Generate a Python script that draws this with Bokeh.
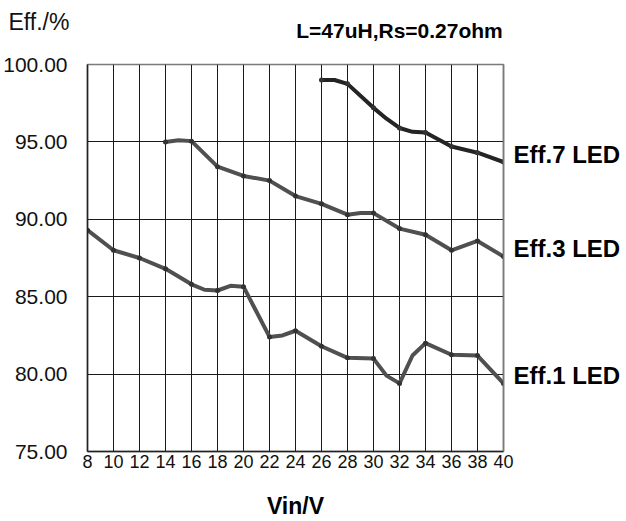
from bokeh.plotting import figure
from bokeh.models import Range1d, FixedTicker, LinearAxis
from bokeh.embed import file_html
from bokeh.resources import INLINE

# ---- data ----
vin_7 = [26, 27, 28, 30, 31, 32, 33, 34, 36, 38, 40]
eff_7 = [99.0, 99.0, 98.75, 97.2, 96.5, 95.9, 95.65, 95.6, 94.7, 94.3, 93.7]

vin_3 = [14, 15, 16, 18, 20, 22, 24, 26, 28, 29, 30, 32, 34, 36, 38, 40]
eff_3 = [95.0, 95.1, 95.05, 93.4, 92.8, 92.5, 91.5, 91.0, 90.3, 90.4, 90.4, 89.4, 89.0, 88.0, 88.6, 87.6]

vin_1 = [8, 10, 12, 14, 16, 17, 18, 19, 20, 22, 23, 24, 26, 28, 30, 31, 32, 33, 34, 36, 38, 40]
eff_1 = [89.3, 88.0, 87.5, 86.8, 85.8, 85.45, 85.4, 85.7, 85.65, 82.4, 82.5, 82.8, 81.8, 81.05, 81.0, 79.9,
         79.4, 81.2, 82.0, 81.25, 81.2, 79.4]

x_ticks = list(range(8, 41, 2))
y_ticks = [75, 80, 85, 90, 95, 100]
y_tick_labels = ["75.00", "80.00", "85.00", "90.00", "95.00", "100.00"]

series_names = ["Eff.7 LED", "Eff.3 LED", "Eff.1 LED"]
subtitle = "L=47uH,Rs=0.27ohm"
subtitle_at_vin = 32          # the subtitle is centred above this Vin gridline
y_title = "Eff./%"
x_title = "Vin/V"

FONT = "Liberation Sans"

p = figure(width=626, height=521, output_backend="svg", toolbar_location=None,
           x_range=Range1d(8, 40), y_range=Range1d(75, 100),
           min_border_left=87, min_border_right=123, min_border_top=64, min_border_bottom=70)
p.background_fill_color = "white"
p.border_fill_color = "white"
p.outline_line_color = "#7a7a7a"
p.outline_line_width = 1.5

# outer title: "Eff./%" at the top-left
p.title.text = y_title
p.title.align = "left"
p.title.offset = -79
p.title.text_font = FONT
p.title.text_font_size = "23px"
p.title.text_font_style = "normal"
p.title.text_color = "#111111"
p.title.standoff = -38

# subtitle as the single label of an axis above the frame
ta = LinearAxis(ticker=FixedTicker(ticks=[subtitle_at_vin]),
                major_label_overrides={subtitle_at_vin: subtitle})
ta.major_label_text_font = FONT
ta.major_label_text_font_size = "21px"
ta.major_label_text_font_style = "bold"
ta.major_label_text_color = "#000000"
ta.major_label_standoff = 23
ta.major_tick_out = 0
ta.major_tick_in = 0
ta.minor_tick_out = 0
ta.minor_tick_in = 0
ta.axis_line_color = None
p.add_layout(ta, "above")

# grids
p.xgrid.ticker = FixedTicker(ticks=x_ticks)
p.ygrid.ticker = FixedTicker(ticks=y_ticks)
for g in (p.xgrid, p.ygrid):
    g.grid_line_color = "#1a1a1a"
    g.grid_line_width = 1
    g.grid_line_alpha = 1.0

# bottom axis
xa = p.below[0]
xa.ticker = FixedTicker(ticks=x_ticks)
xa.major_label_text_font = FONT
xa.major_label_text_font_size = "18px"
xa.major_label_text_color = "#111111"
xa.major_label_standoff = 3
xa.major_tick_out = 0
xa.major_tick_in = 0
xa.minor_tick_out = 0
xa.minor_tick_in = 0
xa.axis_line_color = "#222222"
xa.axis_line_width = 1.5
xa.axis_label = x_title
xa.axis_label_text_font = FONT
xa.axis_label_text_font_size = "23px"
xa.axis_label_text_font_style = "bold"
xa.axis_label_text_color = "#000000"
xa.axis_label_standoff = 22

# left axis
ya = p.left[0]
ya.ticker = FixedTicker(ticks=y_ticks)
ya.major_label_overrides = {v: t for v, t in zip(y_ticks, y_tick_labels)}
ya.major_label_text_font = FONT
ya.major_label_text_font_size = "21px"
ya.major_label_text_color = "#111111"
ya.major_label_standoff = 20
ya.major_tick_out = 0
ya.major_tick_in = 0
ya.minor_tick_out = 0
ya.minor_tick_in = 0
ya.axis_line_color = "#222222"
ya.axis_line_width = 1.5

# lines
colors = ["#242424", "#505050", "#505050"]
all_x = [vin_7, vin_3, vin_1]
all_y = [eff_7, eff_3, eff_1]
for xs, ys, c in zip(all_x, all_y, colors):
    p.line(xs, ys, line_color=c, line_width=4, line_join="round", line_cap="round")
    ex = [x for x in xs if x % 2 == 0]
    ey = [y for x, y in zip(xs, ys) if x % 2 == 0]
    p.scatter(ex, ey, size=5, fill_color="#333333", line_color=None)

# series names on a right axis, next to each curve's end value
end_ticks = [round(ys[-1] + 0.5, 1) for ys in all_y]
ra = LinearAxis(ticker=FixedTicker(ticks=end_ticks),
                major_label_overrides={v: n for v, n in zip(end_ticks, series_names)})
ra.major_label_text_font = FONT
ra.major_label_text_font_size = "24px"
ra.major_label_text_font_style = "bold"
ra.major_label_text_color = "#000000"
ra.major_label_standoff = 10
ra.major_tick_out = 0
ra.major_tick_in = 0
ra.minor_tick_out = 0
ra.minor_tick_in = 0
ra.axis_line_color = "#7a7a7a"
ra.axis_line_width = 1.5
p.add_layout(ra, "right")

open("out.html", "w").write(file_html(p, INLINE))
